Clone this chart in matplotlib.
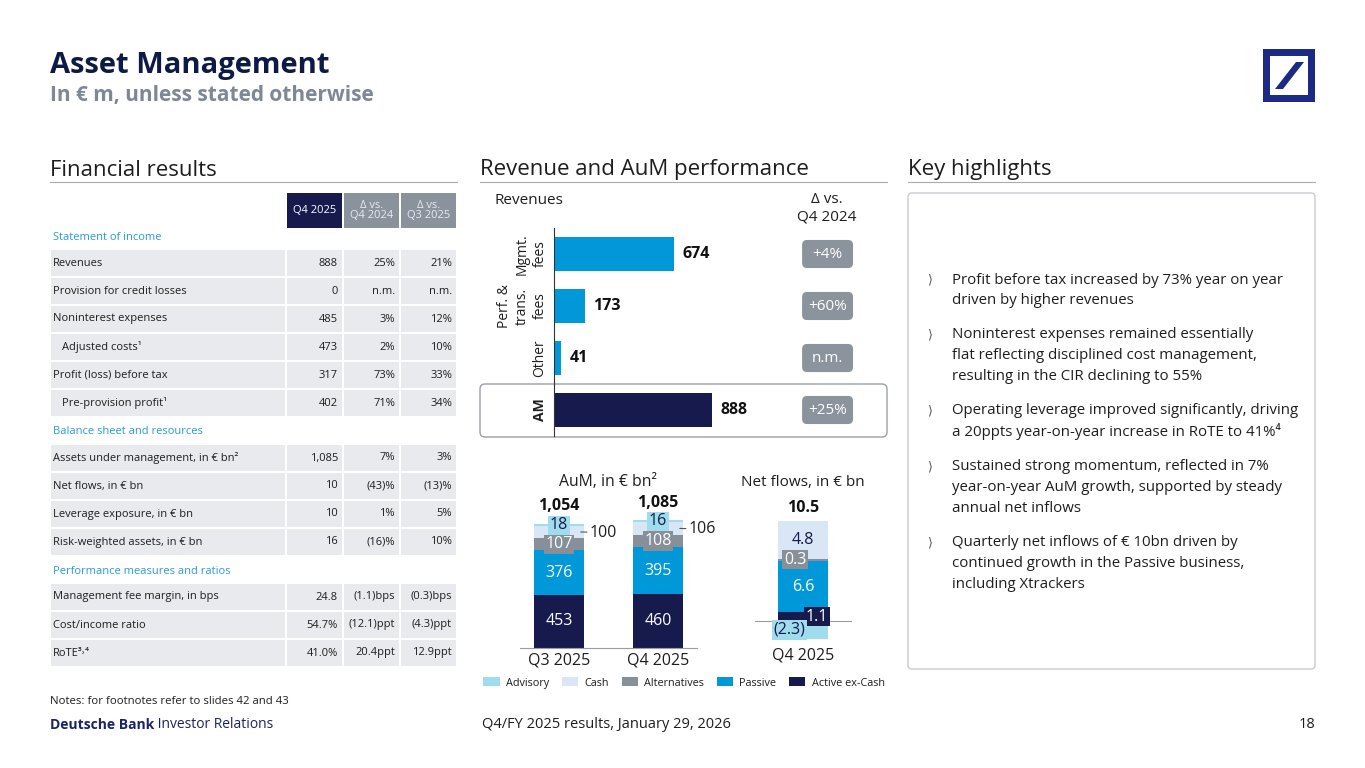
import numpy as np
import matplotlib.pyplot as plt
from matplotlib.patches import Rectangle, FancyBboxPatch, Polygon, Patch
from matplotlib.transforms import blended_transform_factory

plt.rcParams['font.family'] = ['Open Sans', 'DejaVu Sans']

# ---- data ----
income_labels = ["Revenues", "Provision for credit losses", "Noninterest expenses",
                 "Adjusted costs¹", "Profit (loss) before tax", "Pre-provision profit¹"]
income_indent = [False, False, False, True, False, True]
income_q4 = ["888", "0", "485", "473", "317", "402"]
income_yoy = ["25%", "n.m.", "3%", "2%", "73%", "71%"]
income_qoq = ["21%", "n.m.", "12%", "10%", "33%", "34%"]

bs_labels = ["Assets under management, in € bn²", "Net flows, in € bn",
             "Leverage exposure, in € bn", "Risk-weighted assets, in € bn"]
bs_q4 = ["1,085", "10", "10", "16"]
bs_yoy = ["7%", "(43)%", "1%", "(16)%"]
bs_qoq = ["3%", "(13)%", "5%", "10%"]

perf_labels = ["Management fee margin, in bps", "Cost/income ratio", "RoTE³˒⁴"]
perf_q4 = ["24.8", "54.7%", "41.0%"]
perf_yoy = ["(1.1)bps", "(12.1)ppt", "20.4ppt"]
perf_qoq = ["(0.3)bps", "(4.3)ppt", "12.9ppt"]

header_labels = ["Q4 2025", "Δ vs.\nQ4 2024", "Δ vs.\nQ3 2025"]

rev_labels = ["Mgmt.\nfees", "Perf. &\ntrans.\nfees", "Other", "AM"]
rev_values = [674, 173, 41, 888]
rev_deltas = ["+4%", "+60%", "n.m.", "+25%"]

aum_periods = ["Q3 2025", "Q4 2025"]
aum_active = [453, 460]
aum_passive = [376, 395]
aum_alts = [107, 108]
aum_cash = [100, 106]
aum_advisory = [18, 16]
aum_total = ["1,054", "1,085"]

nf_period = ["Q4 2025"]
nf_active = [1.1]
nf_passive = [6.6]
nf_alts = [0.3]
nf_cash = [4.8]
nf_advisory = [-2.3]
nf_total = "10.5"

highlights = [
    ["Profit before tax increased by 73% year on year", "driven by higher revenues"],
    ["Noninterest expenses remained essentially",
     "flat reflecting disciplined cost management,", "resulting in the CIR declining to 55%"],
    ["Operating leverage improved significantly, driving",
     "a 20ppts year-on-year increase in RoTE to 41%⁴"],
    ["Sustained strong momentum, reflected in 7%",
     "year-on-year AuM growth, supported by steady", "annual net inflows"],
    ["Quarterly net inflows of € 10bn driven by",
     "continued growth in the Passive business,", "including Xtrackers"],
]

# ---- colours ----
navy = '#161a4d'
blue = '#0098d8'
c_adv = '#9fdcec'
c_cash = '#d8e6f6'
c_alt = '#878f99'
grey_badge = '#8b939c'
txt = '#1e1e1e'
sec_blue = '#2a9ad6'
row_bg = '#e8eaed'

W, H = 1365, 768
fig = plt.figure(figsize=(13.65, 7.68), dpi=100)
bg = fig.add_axes([0, 0, 1, 1])
bg.set_xlim(0, W)
bg.set_ylim(H, 0)
bg.axis('off')


def px_axes(x0, y0, x1, y1):
    a = fig.add_axes([x0 / W, 1 - y1 / H, (x1 - x0) / W, (y1 - y0) / H])
    a.patch.set_visible(False)
    return a


# ---- header ----
bg.text(50, 65, "Asset Management", fontsize=21, fontweight='bold', color='#0d1a45', va='center')
bg.text(50, 95, "In € m, unless stated otherwise", fontsize=15, fontweight='bold',
        color='#7d8796', va='center')
logo_c = '#1c2a85'
bg.add_patch(Rectangle((1263, 49), 52, 53, fc=logo_c, ec='none'))
bg.add_patch(Rectangle((1270, 56), 38, 39, fc='white', ec='none'))
bg.add_patch(Polygon([(1275, 89), (1283, 89), (1304, 62), (1296, 62)], closed=True, fc=logo_c, ec='none'))

for x0, x1, title in [(50, 457, "Financial results"), (480, 887, "Revenue and AuM performance"),
                      (908, 1315, "Key highlights")]:
    bg.text(x0, 170, title, fontsize=16, color=txt, va='center')
    bg.plot([x0, x1], [182, 182], color='#a8acb2', lw=0.8)

# ---- table ----
col_x = [(287, 342), (344, 399), (401, 456)]
hdr_fc = [navy, '#8a929c', '#8a929c']
hdr_tc = ['white', '#e8eaee', '#e8eaee']
for (x0, x1), lab, fc, tc in zip(col_x, header_labels, hdr_fc, hdr_tc):
    bg.add_patch(Rectangle((x0, 193), x1 - x0, 35, fc=fc, ec='none'))
    bg.text((x0 + x1) / 2, 210.5, lab, fontsize=8, color=tc, ha='center', va='center',
            linespacing=1.0)

sections = [
    ("Statement of income", income_labels, income_q4, income_yoy, income_qoq, income_indent),
    ("Balance sheet and resources", bs_labels, bs_q4, bs_yoy, bs_qoq, [False] * len(bs_labels)),
    ("Performance measures and ratios", perf_labels, perf_q4, perf_yoy, perf_qoq, [False] * len(perf_labels)),
]
y = 237
for k, (sec, labels, q4, yoy, qoq, indent) in enumerate(sections):
    if k > 0:
        y += 29
    bg.text(53, y, sec, fontsize=8, color=sec_blue, va='center')
    y += 26
    for i, lab in enumerate(labels):
        if i > 0:
            y += 28
        bg.add_patch(Rectangle((51, y - 13), 234, 26, fc=row_bg, ec='none'))
        for (x0, x1) in col_x:
            bg.add_patch(Rectangle((x0, y - 13), x1 - x0, 26, fc=row_bg, ec='none'))
        bg.text(62 if indent[i] else 53, y, lab, fontsize=8, color=txt, va='center')
        for (x0, x1), v in zip(col_x, [q4[i], yoy[i], qoq[i]]):
            bg.text(x1 - 4, y, v, fontsize=8, color=txt, va='center', ha='right')

bg.text(50, 701, "Notes: for footnotes refer to slides 42 and 43", fontsize=8.2, color=txt, va='center')

# ---- footer ----
t1 = bg.text(50, 725, "Deutsche Bank", fontsize=10, fontweight='bold', color='#1a2466', va='center')
bg.annotate(" Investor Relations", xy=(1, 0.5), xycoords=t1, fontsize=10, color='#1a2466',
            va='center', ha='left')
bg.text(606, 725, "Q4/FY 2025 results, January 29, 2026", fontsize=10.5, color=txt,
        ha='center', va='center')
bg.text(1315, 725, "18", fontsize=10.5, color=txt, ha='right', va='center')

# ---- revenue chart ----
bg.text(495, 200, "Revenues", fontsize=11, color=txt, va='center')
bg.text(827, 208, "Δ vs.\nQ4 2024", fontsize=11, color=txt, va='center', ha='center')
bg.add_patch(FancyBboxPatch((480, 384), 407, 53, boxstyle="round,pad=0,rounding_size=5",
                            fc='none', ec='#9aa0a8', lw=1.0))

ax_r = px_axes(554, 228, 887, 436)
pos = np.arange(len(rev_values))
ax_r.barh(pos, rev_values, height=0.65, color=[blue, blue, blue, navy])
ax_r.set_ylim(3.5, -0.5)
ax_r.set_xlim(0, 333 / 0.178)
for s in ['top', 'right', 'bottom']:
    ax_r.spines[s].set_visible(False)
ax_r.spines['left'].set_color('#333333')
ax_r.spines['left'].set_linewidth(0.8)
ax_r.set_xticks([])
ax_r.set_yticks([])
tr = blended_transform_factory(ax_r.transAxes, ax_r.transData)
for i, (lab, v, d) in enumerate(zip(rev_labels, rev_values, rev_deltas)):
    ax_r.annotate(f"{v}", (v, i), xytext=(6, 0), textcoords='offset points', va='center',
                  fontsize=11.5, fontweight='bold', color='#111111')
    ax_r.text(-0.02, i, lab, transform=tr, rotation=90, ha='right', va='center',
              multialignment='center', fontsize=10, color=txt, linespacing=1.25,
              fontweight='bold' if lab == 'AM' else 'normal')
    ax_r.add_patch(FancyBboxPatch((0.745, i - 0.27), 0.153, 0.54, transform=tr,
                                  boxstyle="round,pad=0,rounding_size=0.015", mutation_aspect=6.4,
                                  fc=grey_badge, ec='none', clip_on=False))
    ax_r.text(0.745 + 0.0765, i, d, transform=tr, ha='center', va='center', fontsize=11, color='white')

# ---- AuM chart ----
bg.text(608, 482, "AuM, in € bn²", fontsize=11.3, color=txt, ha='center', va='center')
ax_a = px_axes(520, 495, 697, 648)
xa = np.arange(len(aum_periods))
bw = 0.505
stack = [(aum_active, navy), (aum_passive, blue), (aum_alts, c_alt), (aum_cash, c_cash), (aum_advisory, c_adv)]
bottom = np.zeros(len(xa))
mids = []
for vals, c in stack:
    ax_a.bar(xa, vals, bw, bottom=bottom, color=c)
    mids.append(bottom + np.array(vals) / 2)
    bottom = bottom + np.array(vals)
ax_a.set_ylim(0, (648 - 495) / 0.1177)
ax_a.set_xlim(-0.394, 1.394)
for s in ['top', 'right', 'left']:
    ax_a.spines[s].set_visible(False)
ax_a.spines['bottom'].set_color('#9a9ea4')
ax_a.spines['bottom'].set_linewidth(0.8)
ax_a.set_yticks([])
ax_a.set_xticks(xa, aum_periods, fontsize=11.5, color=txt)
ax_a.tick_params(axis='x', length=0, pad=3)
for j in range(len(xa)):
    ax_a.text(xa[j], mids[0][j], str(aum_active[j]), ha='center', va='center', fontsize=11.5, color='white')
    ax_a.text(xa[j], mids[1][j], str(aum_passive[j]), ha='center', va='center', fontsize=11.5, color='white')
    ax_a.text(xa[j], mids[2][j], str(aum_alts[j]), ha='center', va='center', fontsize=11.5, color='white',
              bbox=dict(boxstyle='square,pad=0.1', fc=c_alt, ec='none'))
    ax_a.text(xa[j], bottom[j] - 10, str(aum_advisory[j]), ha='center', va='center', fontsize=11.5,
              color=navy, bbox=dict(boxstyle='square,pad=0.1', fc=c_adv, ec='none'))
    ax_a.annotate(str(aum_cash[j]), xy=(xa[j] + 0.22, mids[3][j]), xytext=(xa[j] + 0.31, mids[3][j] - 5),
                  ha='left', va='center', fontsize=11.5, color=txt,
                  arrowprops=dict(arrowstyle='-', color='#555555', lw=0.8, shrinkA=0, shrinkB=0))
    ax_a.annotate(aum_total[j], (xa[j], bottom[j]), xytext=(0, 7), textcoords='offset points',
                  ha='center', va='bottom', fontsize=11.5, fontweight='bold', color='#111111')

# ---- net flows chart ----
bg.text(803, 482, "Net flows, in € bn", fontsize=11, color=txt, ha='center', va='center')
ax_n = px_axes(755, 495, 852, 648)
xn = np.arange(len(nf_period))
nbw = 0.515
nbottom = np.zeros(len(xn))
nmids = []
for vals, c in [(nf_active, navy), (nf_passive, blue), (nf_alts, c_alt), (nf_cash, c_cash)]:
    ax_n.bar(xn, vals, nbw, bottom=nbottom, color=c)
    nmids.append(nbottom + np.array(vals) / 2)
    nbottom = nbottom + np.array(vals)
ax_n.bar(xn, nf_advisory, nbw, color=c_adv)
ax_n.axhline(0, color='#9a9ea4', lw=0.8)
ax_n.set_ylim(-(648 - 621) / 7.8, (621 - 495) / 7.8)
ax_n.set_xlim(-0.495, 0.505)
for s in ax_n.spines.values():
    s.set_visible(False)
ax_n.set_yticks([])
ax_n.set_xticks(xn, nf_period, fontsize=11.5, color=txt)
ax_n.tick_params(axis='x', length=0, pad=0)
ax_n.text(0, nmids[3][0], f"{nf_cash[0]}", ha='center', va='center', fontsize=11.5, color=navy)
ax_n.text(-0.08, nmids[2][0], f"{nf_alts[0]}", ha='center', va='center', fontsize=11.5, color='white',
          bbox=dict(boxstyle='square,pad=0.1', fc=c_alt, ec='none'))
ax_n.text(0, nmids[1][0], f"{nf_passive[0]}", ha='center', va='center', fontsize=11.5, color='white')
ax_n.text(0.144, nmids[0][0], f"{nf_active[0]}", ha='center', va='center', fontsize=11.5, color='white',
          bbox=dict(boxstyle='square,pad=0.1', fc=navy, ec='none'))
ax_n.text(-0.144, nf_advisory[0] / 2, f"({abs(nf_advisory[0])})", ha='center', va='center', fontsize=11.5,
          color=navy, bbox=dict(boxstyle='square,pad=0.1', fc=c_adv, ec='none'))
ax_n.annotate(nf_total, (0, nbottom[0]), xytext=(0, 4), textcoords='offset points',
              ha='center', va='bottom', fontsize=11.5, fontweight='bold', color='#111111')

# ---- legend ----
handles = [Patch(fc=c, ec='none', label=l) for c, l in
           [(c_adv, "Advisory"), (c_cash, "Cash"), (c_alt, "Alternatives"), (blue, "Passive"),
            (navy, "Active ex-Cash")]]
fig.legend(handles=handles, loc='center', bbox_to_anchor=(684 / W, 1 - 683 / H), ncol=5,
           frameon=False, fontsize=7.8, handlelength=1.5, handleheight=0.9, columnspacing=1.15,
           handletextpad=0.6, labelcolor=txt)

# ---- key highlights ----
bg.add_patch(FancyBboxPatch((908, 193), 407, 476, boxstyle="round,pad=0,rounding_size=4",
                            fc='white', ec='#c8cbd0', lw=1.0))
starts = [280, 335, 411, 467, 543]
for y0, lines in zip(starts, highlights):
    bg.text(928, y0, "⟩", fontsize=9, color='#555555', va='center', family='DejaVu Sans')
    for j, line in enumerate(lines):
        bg.text(952, y0 + j * 20.5, line, fontsize=10.8, color=txt, va='center')

fig.savefig('out.png', dpi=100)
